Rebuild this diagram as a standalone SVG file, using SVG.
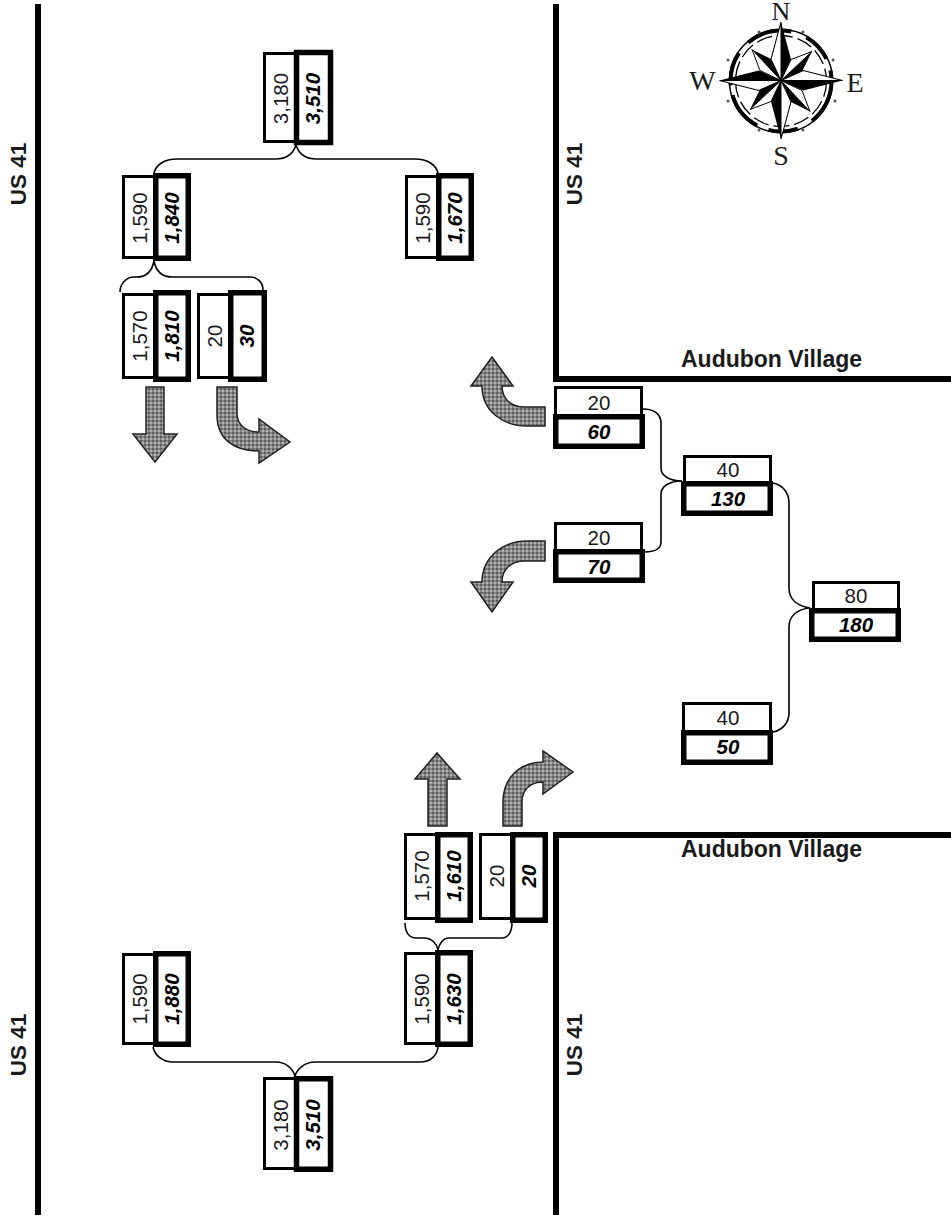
<svg xmlns="http://www.w3.org/2000/svg" width="951" height="1218" viewBox="0 0 951 1218">
<style>
text{font-family:"Liberation Sans",Arial,sans-serif;fill:#1a1a1a}
.n{font-size:20.500px;text-anchor:middle}
.b{font-size:20.500px;text-anchor:middle;font-weight:bold;font-style:italic;fill:#000}
.l{font-size:22.500px;text-anchor:middle;font-weight:bold}
.c{font-family:"Liberation Serif","Times New Roman",serif;font-size:28px;text-anchor:middle}
.thin{fill:#fff;stroke:#000;stroke-width:3}
.bold{fill:none;stroke:#000;stroke-width:5.500}
.road{fill:none;stroke:#000;stroke-width:6}
.conn{fill:none;stroke:#000;stroke-width:1.600}
.arrow{fill:url(#dots);stroke:#222;stroke-width:1.500}
</style>
<defs>
<pattern id="dots" width="4" height="4" patternUnits="userSpaceOnUse"><rect width="4" height="4" fill="#858585"/><rect width="2" height="2" fill="#5f5f5f"/><rect x="2" y="2" width="2" height="2" fill="#b0b0b0"/></pattern>
<g id="ray">
<path fill="#000" d="M0 0L0 -58L10 -21Z"/>
<path fill="#fff" stroke="#000" stroke-width="1" d="M0 0L0 -58L-10 -21Z"/>
</g>
<g id="diag">
<path fill="#000" d="M0 0L31 -29L21 -9Z"/>
<path fill="#fff" stroke="#000" stroke-width="1" d="M0 0L31 -29L10 -21Z"/>
</g>
</defs>
<g id="roads">
<path class="road" d="M38 4V1215"/>
<path class="road" d="M556 4V379H951"/>
<path class="road" d="M951 835H556V1215"/>
</g>
<g id="road-labels">
<text class="l" transform="translate(26 174) rotate(-90)">US 41</text>
<text class="l" transform="translate(26 1045) rotate(-90)">US 41</text>
<text class="l" transform="translate(582 174) rotate(-90)">US 41</text>
<text class="l" transform="translate(582 1045) rotate(-90)">US 41</text>
<text class="l" style="font-size:23px" x="771.500" y="367">Audubon Village</text>
<text class="l" style="font-size:23px" x="771.500" y="857">Audubon Village</text>
</g>
<g id="connectors">
<path class="conn" d="M296 145C293 154 286 159 276 159H177C164 159 156 165 154 173"/>
<path class="conn" d="M296 145C299 154 306 159 316 159H415C428 159 436 165 438 173"/>
<path class="conn" d="M154 261C152 271 146 277 137 277H134C126 277 120 284 120 292"/>
<path class="conn" d="M154 261C156 271 162 277 172 277H250C258 277 263 283 263 290"/>
<path class="conn" d="M405 923C405 932 409 938 416 938H424C432 938 437 944 438 950C439 944 443 938 449 938H502C508 938 512 932 512 923"/>
<path class="conn" d="M153 1047C155 1056 163 1062 173 1062H276C286 1062 293 1069 295 1076C297 1069 305 1062 315 1062H420C430 1062 437 1056 438 1047"/>
<path class="conn" d="M643 409C654 409 661 414 661 423V468C661 476 670 481 682 481"/>
<path class="conn" d="M645 552C654 552 661 549 661 542V494C661 486 670 481 682 481"/>
<path class="conn" d="M773 483C783 485 789 493 789 503V588C789 599 797 606 810 608"/>
<path class="conn" d="M773 732C783 730 789 722 789 713V627C789 616 797 609 810 608"/>
</g>
<g id="n-3180-top"><rect class="thin" x="264.500" y="53.500" width="32" height="88"/><rect class="bold" x="296.500" y="52.500" width="34" height="90"/><text class="n" transform="translate(288 98.500) rotate(-90)">3,180</text><text class="b" transform="translate(320 98.500) rotate(-90)">3,510</text></g>
<g id="n-1590-1840"><rect class="thin" x="123.500" y="176.500" width="32" height="81"/><rect class="bold" x="155.750" y="175.750" width="32.500" height="82.500"/><text class="n" transform="translate(147 218) rotate(-90)">1,590</text><text class="b" transform="translate(179 218) rotate(-90)">1,840</text></g>
<g id="n-1590-1670"><rect class="thin" x="406.500" y="176.500" width="32" height="81"/><rect class="bold" x="438.750" y="175.750" width="32.500" height="82.500"/><text class="n" transform="translate(430 218) rotate(-90)">1,590</text><text class="b" transform="translate(462 218) rotate(-90)">1,670</text></g>
<g id="n-1570-1810"><rect class="thin" x="123.500" y="294.500" width="32" height="83"/><rect class="bold" x="155.750" y="292.750" width="32.500" height="86.500"/><text class="n" transform="translate(147 336) rotate(-90)">1,570</text><text class="b" transform="translate(179 336) rotate(-90)">1,810</text></g>
<g id="n-20-30"><rect class="thin" x="198.500" y="294.500" width="32" height="83"/><rect class="bold" x="230.750" y="292.750" width="33.500" height="86.500"/><text class="n" transform="translate(222 336) rotate(-90)">20</text><text class="b" transform="translate(254 336) rotate(-90)">30</text></g>
<g id="n-1570-1610"><rect class="thin" x="405.500" y="834.500" width="32" height="84"/><rect class="bold" x="437.750" y="834.750" width="32.500" height="85.500"/><text class="n" transform="translate(429 876) rotate(-90)">1,570</text><text class="b" transform="translate(461 876) rotate(-90)">1,610</text></g>
<g id="n-20-20"><rect class="thin" x="480.500" y="834.500" width="32" height="84"/><rect class="bold" x="512.750" y="834.750" width="32.500" height="85.500"/><text class="n" transform="translate(504 876) rotate(-90)">20</text><text class="b" transform="translate(536 876) rotate(-90)">20</text></g>
<g id="n-1590-1630"><rect class="thin" x="405.500" y="953.500" width="32" height="90"/><rect class="bold" x="437.750" y="952.750" width="32.500" height="91.500"/><text class="n" transform="translate(429 999) rotate(-90)">1,590</text><text class="b" transform="translate(461 999) rotate(-90)">1,630</text></g>
<g id="n-1590-1880"><rect class="thin" x="123.500" y="954.500" width="32" height="89"/><rect class="bold" x="155.750" y="953.750" width="32.500" height="90.500"/><text class="n" transform="translate(147 999) rotate(-90)">1,590</text><text class="b" transform="translate(179 999) rotate(-90)">1,880</text></g>
<g id="n-3180-bottom"><rect class="thin" x="264.500" y="1078.500" width="32" height="90"/><rect class="bold" x="296.500" y="1078.750" width="34" height="90.500"/><text class="n" transform="translate(288 1125) rotate(-90)">3,180</text><text class="b" transform="translate(320 1125) rotate(-90)">3,510</text></g>
<g id="n-20-60"><rect class="thin" x="555.500" y="387.500" width="86" height="28"/><rect class="bold" x="555.750" y="416.750" width="86.500" height="29.500"/><text class="n" x="599" y="410">20</text><text class="b" x="599" y="438.500">60</text></g>
<g id="n-20-70"><rect class="thin" x="555.500" y="523.500" width="86" height="27"/><rect class="bold" x="555.750" y="551.750" width="86.500" height="28.500"/><text class="n" x="599" y="545">20</text><text class="b" x="599" y="574">70</text></g>
<g id="n-40-130"><rect class="thin" x="684.500" y="456.500" width="86" height="27"/><rect class="bold" x="683.750" y="483.750" width="86.500" height="29.500"/><text class="n" x="728" y="477">40</text><text class="b" x="728" y="506">130</text></g>
<g id="n-80-180"><rect class="thin" x="813.500" y="582.500" width="85" height="27"/><rect class="bold" x="811.750" y="610.750" width="86.500" height="28.500"/><text class="n" x="856" y="603">80</text><text class="b" x="856" y="632">180</text></g>
<g id="n-40-50"><rect class="thin" x="683.500" y="703.500" width="87" height="28"/><rect class="bold" x="683.750" y="732.750" width="86.500" height="29.500"/><text class="n" x="728" y="725">40</text><text class="b" x="728" y="754">50</text></g>
<g id="arrows">
<path class="arrow" d="M146 387H164V434H177L155 462L133 434H146Z"/>
<path class="arrow" d="M217 387H237V413C237 425 246 432 259 432V419L290 442L259 463V451C235 451 217 440 217 415Z"/>
<path class="arrow" d="M545 407V426H527C504 426 482 412 482 386H471L492 357L513 386H502C502 398 510 407 525 407Z"/>
<path class="arrow" d="M545 541V561H525C510 561 502 570 502 582H513L492 612L471 582H482C482 558 502 541 527 541Z"/>
<path class="arrow" d="M428 826H447V779H460L437 753L415 779H428Z"/>
<path class="arrow" d="M503 826H522V802C522 790 530 782 543 782V794L573 772L543 751V762C520 762 503 778 503 802Z"/>
</g>
<g id="compass">
<circle cx="781" cy="81" r="51.500" fill="none" stroke="#000" stroke-width="1.500"/>
<circle cx="781" cy="81" r="50.500" fill="none" stroke="#000" stroke-width="4" stroke-dasharray="46 16 30 12 40 10 34 14 46 16 30 12 14 6"/>
<circle cx="781" cy="81" r="45.500" fill="none" stroke="#000" stroke-width="1.300" stroke-dasharray="16 5"/>
<g fill="#555"><circle cx="759" cy="32" r="1.500"/><circle cx="803" cy="32" r="1.500"/><circle cx="833" cy="60" r="1.500"/><circle cx="835" cy="101" r="1.500"/><circle cx="803" cy="130" r="1.500"/><circle cx="759" cy="130" r="1.500"/><circle cx="728" cy="101" r="1.500"/><circle cx="728" cy="60" r="1.500"/></g>
<g transform="translate(781 80.500)">
<use href="#diag"/><use href="#diag" transform="rotate(90)"/><use href="#diag" transform="rotate(180)"/><use href="#diag" transform="rotate(270)"/>
<use href="#ray" transform="scale(1 1.010)"/><use href="#ray" transform="rotate(90) scale(1 1.060)"/><use href="#ray" transform="rotate(180) scale(1 1.010)"/><use href="#ray" transform="rotate(270) scale(1 1.060)"/>
</g>
<text class="c" style="font-size:26px" x="781" y="20">N</text>
<text class="c" x="702.500" y="90">W</text>
<text class="c" x="855" y="92">E</text>
<text class="c" x="781" y="165">S</text>
</g>
</svg>
